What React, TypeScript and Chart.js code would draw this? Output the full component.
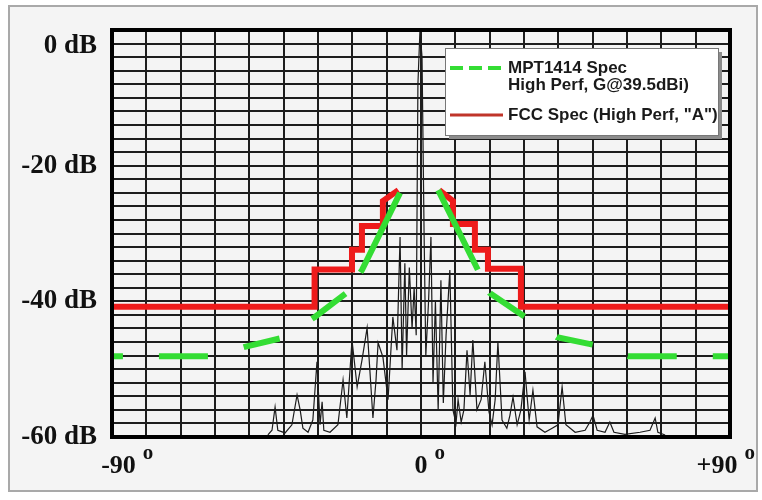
import React, { useEffect, useRef } from 'react';
import { Chart, registerables } from 'chart.js';

Chart.register(...registerables);

// ---------- data (degrees off boresight, dB relative to peak) ----------
const yTickLabelSteps = [0, -20, -40, -60];
const xTickLabels: Record<number, string> = { [-90]: '-90', 0: '0', 90: '+90' };

const mptLabel = 'MPT1414 Spec\nHigh Perf, G@39.5dBi)';
const mptLeftAngles = [-6.1, -17.2, -21.3, -30.9, -40.5, -51.3, -60.9, -90];
const mptLeftLevels = [-24.0, -35.4, -38.6, -42.3, -45.4, -46.7, -48.1, -48.1];
const mptRightAngles = [5.0, 16.6, 20.1, 30.3, 39.6, 50.1, 60.3, 90];
const mptRightLevels = [-23.6, -35.4, -38.8, -42.3, -45.3, -46.4, -48.1, -48.1];

const fccLabel = 'FCC Spec (High Perf, "A")';
const fccLeftAngles = [-90, -31, -31, -20.1, -20.1, -17.2, -17.2, -11.1, -11.1, -6.6];
const fccLeftLevels = [-40.8, -40.8, -35.3, -35.3, -32.4, -32.4, -28.9, -28.9, -25.2, -23.6];
const fccRightAngles = [5.3, 9.3, 9.3, 15.7, 15.7, 19.5, 19.5, 29.1, 29.1, 90];
const fccRightLevels = [-23.6, -25.2, -28.6, -28.6, -32.4, -32.4, -35.2, -35.2, -40.8, -40.8];

const measuredLabel = 'Measured pattern';
const measuredAngles = [
  -44.6, -43.4, -42.5, -41.7, -39.6, -37.6, -36.1, -35.2, -34.4, -32.9, -31.5, -30.3, -29.4, -28.8,
  -28.3, -26.5, -24.2, -22.7, -21.6, -20.1, -18.6, -17.2, -15.7, -14.9, -14.0, -13.1, -12.5, -11.1,
  -9.6, -8.2, -7.0, -6.1, -5.5, -4.7, -4.2, -3.4, -2.6, -2.0, -1.4, -0.9, -0.3, 0.3, 0.9, 1.4, 2.2,
  2.9, 3.5, 4.2, 5.0, 5.8, 6.5, 7.3, 8.4, 9.3, 10.2, 10.8, 11.7, 12.5, 13.4, 14.3, 15.1, 16.3, 17.5,
  18.6, 19.8, 20.7, 21.6, 22.4, 23.6, 25.0, 25.9, 26.8, 28.0, 29.1, 30.3, 31.5, 32.6, 33.8, 36.1,
  38.2, 39.9, 41.1, 42.2, 44.9, 47.8, 49.2, 50.1, 51.3, 53.6, 55.0, 56.2, 59.4, 63.8, 66.7, 68.2,
  69.0, 71.1,
];
const measuredLevels = [
  -59.7, -59.0, -55.6, -59.0, -59.4, -58.2, -53.8, -56.0, -58.7, -59.3, -57.5, -48.9, -58.2, -54.8,
  -59.0, -59.3, -58.2, -51.6, -57.2, -45.7, -52.6, -48.7, -43.9, -50.1, -57.2, -51.6, -46.1, -48.2,
  -54.5, -42.3, -47.2, -30.5, -50.0, -34.4, -48.0, -35.0, -44.0, -38.0, -45.0, -8.0, 0, -4.0, -30.0,
  -48.0, -40.0, -30.5, -52.0, -40.0, -56.0, -36.9, -55.0, -45.0, -35.4, -56.0, -58.0, -54.5, -57.8,
  -56.0, -47.2, -53.8, -45.7, -56.0, -54.5, -48.9, -56.3, -58.2, -54.5, -46.0, -57.5, -58.7, -56.8,
  -54.1, -58.2, -56.0, -50.4, -57.5, -53.1, -58.5, -59.3, -58.7, -58.2, -52.6, -58.2, -59.3, -59.0,
  -57.8, -56.8, -59.0, -59.3, -57.8, -59.3, -59.6, -59.3, -59.0, -57.2, -59.3, -59.7,
];

const pts = (xs: number[], ys: number[]) => xs.map((x, i) => ({ x, y: ys[i] }));
const gap = { x: 0, y: null as any };

const SERIF = '"Liberation Serif", "Times New Roman", serif';
const SANS = '"Liberation Sans", Arial, sans-serif';
const GREEN = '#34dd34';
const RED = '#ee1b1b';

// padded x label text: shifts the end labels inward like the original print
const xLabelText = (v: number) => {
  const base = xTickLabels[v];
  if (!base) return '';
  if (v === -90) return '  ' + base;
  if (v === 90) return base + '    ';
  return base;
};

const frameLegendPlugin = {
  id: 'frameLegend',
  afterDatasetsDraw(chart: any) {
    const { ctx, chartArea } = chart;
    ctx.save();
    // heavy plot frame
    ctx.strokeStyle = '#000';
    ctx.lineWidth = 4;
    ctx.strokeRect(chartArea.left, chartArea.top, chartArea.right - chartArea.left, chartArea.bottom - chartArea.top);

    // boxed legend
    const bx = chartArea.right - 285;
    const by = chartArea.top + 18;
    const bw = 273;
    const bh = 87;
    ctx.fillStyle = '#8c8c8c';
    ctx.fillRect(bx + 4, by + 4, bw, bh);
    ctx.fillStyle = '#ffffff';
    ctx.fillRect(bx, by, bw, bh);
    ctx.strokeStyle = '#777';
    ctx.lineWidth = 1;
    ctx.strokeRect(bx + 0.5, by + 0.5, bw, bh);

    const ds = chart.data.datasets;
    ctx.font = `bold 17px ${SANS}`;
    ctx.fillStyle = '#1a1a1a';
    ctx.textBaseline = 'middle';
    ctx.textAlign = 'left';

    // MPT item
    ctx.setLineDash([13, 6]);
    ctx.strokeStyle = GREEN;
    ctx.lineWidth = 4;
    ctx.beginPath();
    ctx.moveTo(bx + 5, by + 20);
    ctx.lineTo(bx + 58, by + 20);
    ctx.stroke();
    ctx.setLineDash([]);
    String(ds[0].label).split('\n').forEach((line: string, i: number) => {
      ctx.fillText(line, bx + 63, by + 20 + i * 17);
    });

    // FCC item
    ctx.strokeStyle = '#c0352a';
    ctx.lineWidth = 3;
    ctx.beginPath();
    ctx.moveTo(bx + 5, by + 67);
    ctx.lineTo(bx + 58, by + 67);
    ctx.stroke();
    ctx.fillText(String(ds[1].label), bx + 63, by + 67);
    ctx.restore();
  },
  afterDraw(chart: any) {
    const { ctx } = chart;
    const xs = chart.scales.x;
    ctx.save();
    ctx.fillStyle = '#111';
    xs.ticks.forEach((t: any) => {
      const full = xLabelText(t.value);
      if (!full) return;
      ctx.font = `bold 26px ${SERIF}`;
      const fullW = ctx.measureText(full).width;
      const trailing = ctx.measureText(full.slice(full.trimEnd().length)).width;
      const px = xs.getPixelForValue(t.value);
      const right = px + fullW / 2 - trailing;
      ctx.font = `bold 21px ${SERIF}`;
      ctx.textAlign = 'left';
      ctx.textBaseline = 'alphabetic';
      ctx.fillText('o', right + 7, xs.top + 22);
    });
    ctx.restore();
  },
};

export default function App() {
  const ref = useRef<HTMLCanvasElement>(null);

  useEffect(() => {
    const chart = new Chart(ref.current as HTMLCanvasElement, {
      type: 'line',
      data: {
        datasets: [
          {
            label: mptLabel,
            data: [...pts(mptLeftAngles, mptLeftLevels), gap, ...pts(mptRightAngles, mptRightLevels)],
            borderColor: GREEN,
            borderWidth: 6,
            borderDash: [89, 26, 42, 38, 37, 37, 49, 36, 100],
            pointRadius: 0,
            spanGaps: false,
            tension: 0,
          },
          {
            label: fccLabel,
            data: [...pts(fccLeftAngles, fccLeftLevels), gap, ...pts(fccRightAngles, fccRightLevels)],
            borderColor: RED,
            borderWidth: 6,
            pointRadius: 0,
            spanGaps: false,
            tension: 0,
          },
          {
            label: measuredLabel,
            data: pts(measuredAngles, measuredLevels),
            borderColor: '#1c1c1c',
            borderWidth: 1.2,
            pointRadius: 0,
            tension: 0,
          },
        ],
      },
      options: {
        responsive: false,
        animation: false,
        devicePixelRatio: 1,
        layout: { padding: { top: 30, right: 32, left: 0, bottom: 0 } },
        plugins: { legend: { display: false }, tooltip: { enabled: false } },
        scales: {
          x: {
            type: 'linear',
            min: -90,
            max: 90,
            afterFit: (s: any) => {
              s.height = 63;
              s.paddingLeft = 0;
              s.paddingRight = 0;
            },
            ticks: {
              stepSize: 10,
              autoSkip: false,
              maxRotation: 0,
              padding: 14,
              color: '#111',
              font: { family: SERIF, size: 26, weight: 'bold' },
              callback: (v: any) => xLabelText(v),
            },
            grid: { color: '#1e1e1e', lineWidth: 2, drawTicks: false },
            border: { display: true, color: '#000', width: 4 },
          },
          y: {
            type: 'linear',
            min: -60,
            max: 0,
            afterFit: (s: any) => {
              s.width = 112;
              s.paddingTop = 0;
              s.paddingBottom = 0;
            },
            ticks: {
              stepSize: 2,
              autoSkip: false,
              padding: 15,
              color: '#111',
              font: { family: SERIF, size: 27, weight: 'bold' },
              callback: (v: any) =>
                v === 0 ? ['', `${v} dB`] : yTickLabelSteps.includes(v) ? `${v} dB` : '',
            },
            grid: { color: '#1e1e1e', lineWidth: 2, drawTicks: false },
            border: { display: true, color: '#000', width: 4 },
          },
        },
      } as any,
      plugins: [frameLegendPlugin],
    });
    return () => chart.destroy();
  }, []);

  return (
    <>
      <div
        style={{
          position: 'absolute',
          left: 8,
          top: 5,
          width: 750,
          height: 487,
          boxSizing: 'border-box',
          border: '2px solid #a9a9a9',
          background: '#f4f4f4',
        }}
      />
      <canvas
        ref={ref}
        width={762}
        height={500}
        style={{ position: 'absolute', left: 0, top: 0, width: 762, height: 500 }}
      />
    </>
  );
}
